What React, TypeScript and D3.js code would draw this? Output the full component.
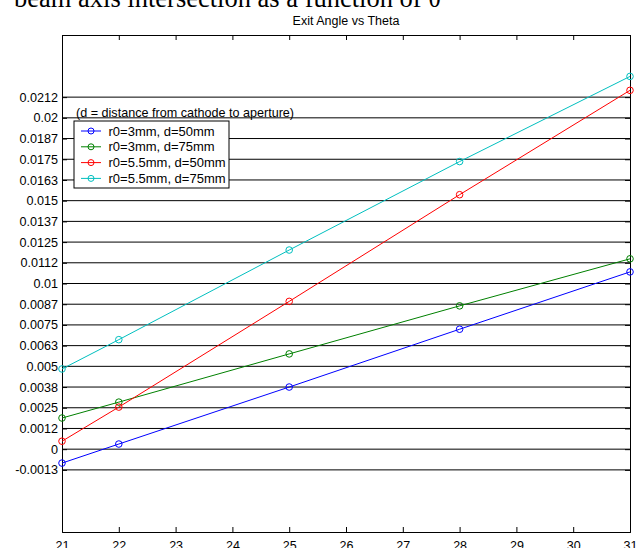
import { useEffect, useRef } from 'react';
import * as d3 from 'd3';

// theta values (x) and exit-angle values per configuration
const thetas = [21, 22, 25, 28, 31];
const blueVals = [-0.00084, 0.00031, 0.00375, 0.00724, 0.0107];
const greenVals = [0.00188, 0.00284, 0.00575, 0.00865, 0.01149];
const redVals = [0.00048, 0.00254, 0.00892, 0.01536, 0.02166];
const cyanVals = [0.00484, 0.00661, 0.01202, 0.01736, 0.0225];

const seriesNames = ['r0=3mm, d=50mm', 'r0=3mm, d=75mm', 'r0=5.5mm, d=50mm', 'r0=5.5mm, d=75mm'];
const seriesColors = ['#0000ff', '#008000', '#ff0000', '#00bfbf'];

const xTicks = [21, 22, 23, 24, 25, 26, 27, 28, 29, 30, 31];
const yTicks = [
  -0.00125, 0, 0.00125, 0.0025, 0.00375, 0.005, 0.00625, 0.0075, 0.00875, 0.01, 0.01125, 0.0125,
  0.01375, 0.015, 0.01625, 0.0175, 0.01875, 0.02, 0.02125,
];
const yTickLabels = [
  '-0.0013', '0', '0.0012', '0.0025', '0.0038', '0.005', '0.0063', '0.0075', '0.0087', '0.01', '0.0112',
  '0.0125', '0.0137', '0.015', '0.0163', '0.0175', '0.0187', '0.02', '0.0212',
];

export default function App() {
  const svgRef = useRef<SVGSVGElement | null>(null);

  useEffect(() => {
    if (!svgRef.current) return;
    const svg = d3.select(svgRef.current);
    svg.selectAll('*').remove();

    const width = 639;
    const height = 548;
    const margin = { top: 35, right: 9, bottom: 16, left: 62 };
    const font = 'Liberation Sans, Arial, sans-serif';

    const x = d3.scaleLinear().domain([21, 31]).range([margin.left, width - margin.right]);
    const y = d3.scaleLinear().domain([-0.005, 0.025]).range([height - margin.bottom, margin.top]);

    svg.append('rect').attr('width', width).attr('height', height).attr('fill', '#fff');

    // clipped heading from the surrounding document
    svg
      .append('text')
      .attr('x', 14)
      .attr('y', 7)
      .attr('font-family', 'Liberation Serif, Times New Roman, serif')
      .attr('font-size', 26.5)
      .attr('fill', '#000')
      .text('beam axis intersection as a function of θ');

    svg
      .append('text')
      .attr('x', (margin.left + width - margin.right) / 2)
      .attr('y', 25)
      .attr('text-anchor', 'middle')
      .attr('font-family', font)
      .attr('font-size', 12.5)
      .attr('fill', '#000')
      .text('Exit Angle vs Theta');

    // horizontal grid lines
    svg
      .append('g')
      .selectAll('line')
      .data(yTicks)
      .join('line')
      .attr('x1', x(21))
      .attr('x2', x(31))
      .attr('y1', (d) => y(d))
      .attr('y2', (d) => y(d))
      .attr('stroke', '#000')
      .attr('stroke-width', 1);

    // x axes (bottom + top, inward ticks)
    const xb = svg
      .append('g')
      .attr('transform', `translate(0,${y(-0.005)})`)
      .call(d3.axisBottom(x).tickValues(xTicks).tickSize(-5).tickPadding(9).tickFormat(d3.format('d')));
    xb.selectAll('text').attr('font-family', font).attr('font-size', 12.5).attr('fill', '#000');
    xb.selectAll('line, path').attr('stroke', '#000');

    const xt = svg
      .append('g')
      .attr('transform', `translate(0,${y(0.025)})`)
      .call(d3.axisTop(x).tickValues(xTicks).tickSize(-5).tickFormat(() => ''));
    xt.selectAll('line, path').attr('stroke', '#000');

    // y axes (left + right)
    const yl = svg
      .append('g')
      .attr('transform', `translate(${x(21)},0)`)
      .call(
        d3
          .axisLeft(y)
          .tickValues(yTicks)
          .tickSize(-5)
          .tickPadding(4)
          .tickFormat((_, i) => yTickLabels[i])
      );
    yl.selectAll('text').attr('font-family', font).attr('font-size', 12.6).attr('fill', '#000');
    yl.selectAll('line, path').attr('stroke', '#000');

    const yr = svg
      .append('g')
      .attr('transform', `translate(${x(31)},0)`)
      .call(d3.axisRight(y).tickValues(yTicks).tickSize(-5).tickFormat(() => ''));
    yr.selectAll('line, path').attr('stroke', '#000');

    const allSeries = [blueVals, greenVals, redVals, cyanVals];
    const line = d3
      .line<number>()
      .x((_, i) => x(thetas[i]))
      .y((d) => y(d));

    allSeries.forEach((vals, si) => {
      const g = svg.append('g');
      g.append('path')
        .datum(vals)
        .attr('fill', 'none')
        .attr('stroke', seriesColors[si])
        .attr('stroke-width', 1)
        .attr('d', line);
      g.selectAll('circle')
        .data(vals)
        .join('circle')
        .attr('cx', (_, i) => x(thetas[i]))
        .attr('cy', (d) => y(d))
        .attr('r', 3.3)
        .attr('fill', 'none')
        .attr('stroke', seriesColors[si])
        .attr('stroke-width', 1);
    });

    // legend
    svg
      .append('text')
      .attr('x', 76)
      .attr('y', 116.5)
      .attr('font-family', font)
      .attr('font-size', 12.6)
      .attr('fill', '#000')
      .text('(d = distance from cathode to aperture)');

    const lg = svg.append('g').attr('transform', 'translate(74,121)');
    lg.append('rect')
      .attr('width', 155)
      .attr('height', 67)
      .attr('fill', '#fff')
      .attr('stroke', '#000')
      .attr('stroke-width', 1);
    seriesNames.forEach((name, i) => {
      const cy = 10 + i * 15.8;
      lg.append('line')
        .attr('x1', 7)
        .attr('x2', 27)
        .attr('y1', cy)
        .attr('y2', cy)
        .attr('stroke', seriesColors[i]);
      lg.append('circle')
        .attr('cx', 17)
        .attr('cy', cy)
        .attr('r', 3)
        .attr('fill', 'none')
        .attr('stroke', seriesColors[i]);
      lg.append('text')
        .attr('x', 34.5)
        .attr('y', cy + 4.5)
        .attr('font-family', font)
        .attr('font-size', 13)
        .attr('fill', '#000')
        .text(name);
    });
  }, []);

  return (
    <svg
      ref={svgRef}
      width={639}
      height={548}
      style={{ position: 'absolute', left: 0, top: 0, display: 'block' }}
      role="img"
      aria-label="Exit Angle vs Theta"
    />
  );
}
